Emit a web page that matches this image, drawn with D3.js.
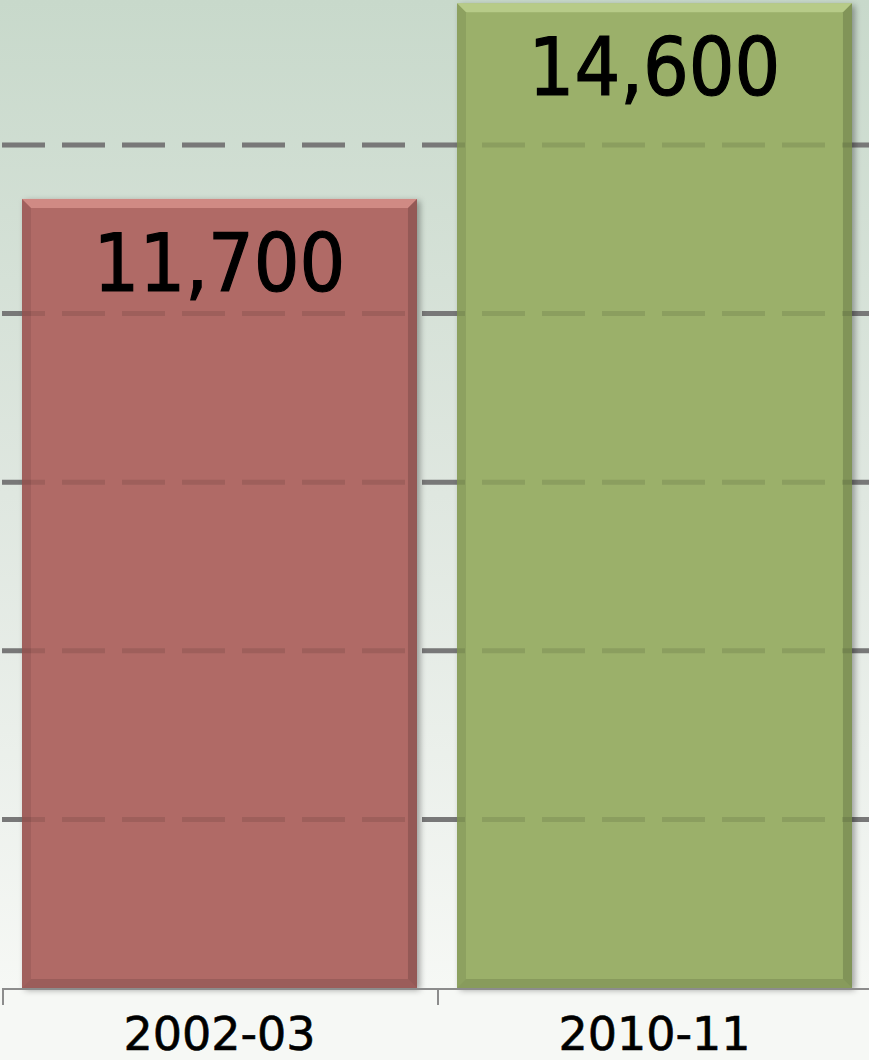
<!DOCTYPE html>
<html>
<head>
<meta charset="utf-8">
<script src="https://cdn.jsdelivr.net/npm/d3@7"></script>
<style>
  html, body { margin: 0; padding: 0; background: #f6f8f5; }
  #chart { width: 869px; height: 1060px; }
</style>
</head>
<body>
<div id="chart"></div>
<script>
// chart data
var categories = ['2002-03', '2010-11'];
var values = [11700, 14600];
var valueLabels = ['11,700', '14,600'];
var gridTicks = [2500, 5000, 7500, 10000, 12500];
var barColors = ['#b06a66', '#9bb06a'];
var bevelLight = ['#d68f8a', '#bcd08d'];
var bevelDark = ['#7e4a48', '#6c7d48'];

var width = 869, height = 1060;
var baseY = 988;

var svg = d3.select('#chart').append('svg')
  .attr('width', width)
  .attr('height', height);

var defs = svg.append('defs');

var bg = defs.append('linearGradient')
  .attr('id', 'bg').attr('x1', 0).attr('y1', 0).attr('x2', 0).attr('y2', 1);
bg.append('stop').attr('offset', '0%').attr('stop-color', '#c8d9cb');
bg.append('stop').attr('offset', '50%').attr('stop-color', '#dfe7e0');
bg.append('stop').attr('offset', '100%').attr('stop-color', '#f6f8f5');

var shadow = defs.append('filter').attr('id', 'shadow')
  .attr('x', '-10%').attr('y', '-10%').attr('width', '130%').attr('height', '130%');
shadow.append('feDropShadow')
  .attr('dx', 3).attr('dy', 2).attr('stdDeviation', 3)
  .attr('flood-color', '#000').attr('flood-opacity', 0.35);

// background
svg.append('rect')
  .attr('width', width).attr('height', baseY)
  .attr('fill', 'url(#bg)');

var x = d3.scaleBand()
  .domain(categories)
  .range([2, 872])
  .paddingInner(0.092)
  .paddingOuter(0.046);

var y = d3.scaleLinear()
  .domain([0, 14650])
  .range([baseY, 0]);

// gridlines under the bars
var grid = svg.append('g');
grid.selectAll('line').data(gridTicks).enter().append('line')
  .attr('x1', 2).attr('x2', width)
  .attr('y1', function (d) { return y(d); })
  .attr('y2', function (d) { return y(d); })
  .attr('stroke', '#868686')
  .attr('stroke-width', 5)
  .attr('stroke-dasharray', '43,17');

// bars
var bars = svg.selectAll('g.bar').data(values).enter().append('g')
  .attr('class', 'bar');

bars.append('rect')
  .attr('x', function (d, i) { return x(categories[i]); })
  .attr('y', function (d) { return y(d); })
  .attr('width', x.bandwidth())
  .attr('height', function (d) { return baseY - y(d); })
  .attr('fill', function (d, i) { return barColors[i]; })
  .attr('filter', 'url(#shadow)');

// bevel edges
var bw = 9;
function bevel(d, i, side) {
  var x0 = x(categories[i]), x1 = x0 + x.bandwidth();
  var y0 = y(d), y1 = baseY;
  var p;
  if (side === 'top') p = [[x0, y0], [x1, y0], [x1 - bw, y0 + bw], [x0 + bw, y0 + bw]];
  if (side === 'bottom') p = [[x0, y1], [x1, y1], [x1 - bw, y1 - bw], [x0 + bw, y1 - bw]];
  if (side === 'left') p = [[x0, y0], [x0 + bw, y0 + bw], [x0 + bw, y1 - bw], [x0, y1]];
  if (side === 'right') p = [[x1, y0], [x1 - bw, y0 + bw], [x1 - bw, y1 - bw], [x1, y1]];
  return 'M' + p.join('L') + 'Z';
}
bars.append('path')
  .attr('d', function (d, i) { return bevel(d, i, 'top'); })
  .attr('fill', function (d, i) { return bevelLight[i]; })
  .attr('opacity', 0.85);
bars.append('path')
  .attr('d', function (d, i) { return bevel(d, i, 'left'); })
  .attr('fill', function (d, i) { return bevelDark[i]; })
  .attr('opacity', 0.3);
bars.append('path')
  .attr('d', function (d, i) { return bevel(d, i, 'right'); })
  .attr('fill', function (d, i) { return bevelDark[i]; })
  .attr('opacity', 0.55);
bars.append('path')
  .attr('d', function (d, i) { return bevel(d, i, 'bottom'); })
  .attr('fill', function (d, i) { return bevelDark[i]; })
  .attr('opacity', 0.4);

// faint gridlines showing through the bars
svg.append('g').selectAll('line').data(gridTicks).enter().append('line')
  .attr('x1', 2).attr('x2', width)
  .attr('y1', function (d) { return y(d); })
  .attr('y2', function (d) { return y(d); })
  .attr('stroke', '#000')
  .attr('stroke-opacity', 0.1)
  .attr('stroke-width', 5)
  .attr('stroke-dasharray', '43,17');

// value labels
bars.append('text')
  .attr('x', function (d, i) { return x(categories[i]) + x.bandwidth() / 2; })
  .attr('y', function (d) { return y(d) + 92; })
  .attr('text-anchor', 'middle')
  .attr('font-family', '"DejaVu Sans Condensed", "DejaVu Sans", sans-serif')
  .attr('font-stretch', 'condensed')
  .attr('font-size', 80)
  .attr('fill', '#000')
  .attr('stroke', '#000')
  .attr('stroke-width', 1.2)
  .text(function (d, i) { return valueLabels[i]; });

// x axis: baseline, edge ticks, labels
var axis = svg.append('g');
axis.append('line')
  .attr('x1', 2).attr('x2', width)
  .attr('y1', baseY + 1).attr('y2', baseY + 1)
  .attr('stroke', '#8c8c8c').attr('stroke-width', 2);

var edges = categories.map(function (c) { return x(c) - x.step() * x.paddingInner() / 2; });
edges.push(edges[edges.length - 1] + x.step());
axis.selectAll('line.tick').data(edges).enter().append('line')
  .attr('class', 'tick')
  .attr('x1', function (d) { return d + 1; })
  .attr('x2', function (d) { return d + 1; })
  .attr('y1', baseY).attr('y2', baseY + 17)
  .attr('stroke', '#8c8c8c').attr('stroke-width', 2);

var xAxis = svg.append('g')
  .attr('transform', 'translate(0,' + baseY + ')')
  .call(d3.axisBottom(x).tickSize(0).tickPadding(0));
xAxis.select('.domain').remove();
xAxis.selectAll('text')
  .attr('dy', null)
  .attr('y', 62)
  .attr('font-family', '"DejaVu Sans", sans-serif')
  .attr('font-size', 46)
  .attr('fill', '#000')
  .attr('stroke', '#000')
  .attr('stroke-width', 0.6);
</script>
</body>
</html>
